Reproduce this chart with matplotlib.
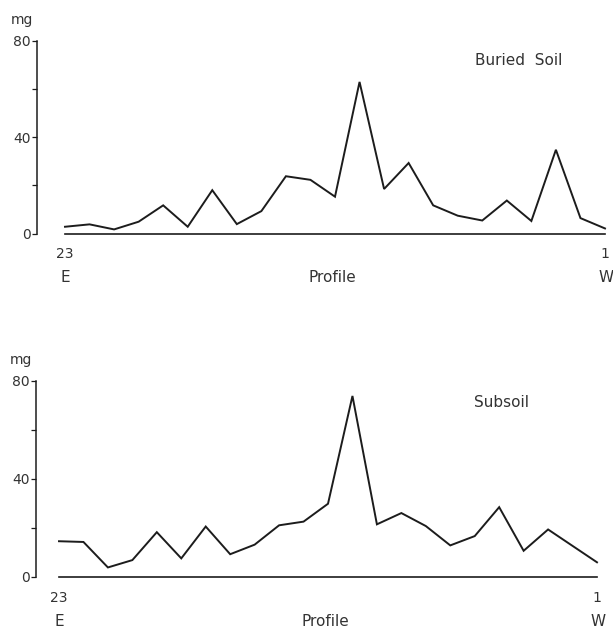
import matplotlib.pyplot as plt
from matplotlib.ticker import MultipleLocator

# profile positions, east (23) to west (1)
profile = [23, 22, 21, 20, 19, 18, 17, 16, 15, 14, 13, 12,
           11, 10, 9, 8, 7, 6, 5, 4, 3, 2, 1]

buried_soil = [2.8, 3.8, 1.7, 4.9, 11.7, 2.8, 18.0, 3.9, 9.3, 23.8, 22.3, 15.3,
               63.0, 18.5, 29.3, 11.7, 7.4, 5.4, 13.7, 5.2, 34.8, 6.4, 2.1]

subsoil = [14.6, 14.3, 3.9, 6.9, 18.3, 7.6, 20.6, 9.3, 13.2, 21.1, 22.6, 29.9,
           73.9, 21.5, 26.1, 20.8, 12.9, 16.7, 28.5, 10.7, 19.4, 12.7, 6.0]

W, H = 613, 628
ink = '#1c1c1c'
plt.rcParams['font.family'] = 'DejaVu Sans'
plt.rcParams['font.size'] = 10

fig = plt.figure(figsize=(W / 100, H / 100), dpi=100)


def panel(spine_x, first_x, last_x, y0, y80, values, label, label_xy):
    # place axes by pixel positions of the spine, first/last point and 0/80 lines
    n = len(values) - 1
    step = (last_x - first_x) / n
    ax = fig.add_axes([spine_x / W, 1 - y0 / H, (last_x - spine_x) / W, (y0 - y80) / H])
    ax.set_xlim(-(first_x - spine_x) / step, n)
    ax.set_ylim(0, 80)
    xs = range(len(values))
    ax.plot(xs, values, color=ink, lw=1.4, clip_on=False, solid_joinstyle='miter')
    ax.plot([0, n], [0, 0], color=ink, lw=1.2, clip_on=False)

    for s in ['top', 'right', 'bottom']:
        ax.spines[s].set_visible(False)
    ax.spines['left'].set_color(ink)
    ax.spines['left'].set_linewidth(1.1)
    ax.spines['left'].set_bounds(0, 80)
    ax.set_xticks([])
    ax.yaxis.set_major_locator(MultipleLocator(40))
    ax.yaxis.set_minor_locator(MultipleLocator(20))
    ax.tick_params(axis='y', which='both', direction='out', length=3.6, width=0.9,
                   color=ink, labelcolor='#333333', pad=1)
    ax.patch.set_visible(False)

    txt = dict(textcoords='offset pixels', ha='center', va='center',
               color='#333333', annotation_clip=False)
    ax.annotate('mg', xy=(0, 80), xycoords=('axes fraction', 'data'),
                xytext=(-15, 21), **txt)
    ax.annotate(str(profile[0]), xy=(0, 0), xytext=(0, -21), **txt)
    ax.annotate(str(profile[-1]), xy=(n, 0), xytext=(0, -21), **txt)
    ax.annotate('E', xy=(0, 0), xytext=(0, -44), fontsize=11, **txt)
    ax.annotate('W', xy=(n, 0), xytext=(1, -44), fontsize=11, **txt)
    ax.annotate('Profile', xy=(n / 2, 0), xytext=(-3, -44), fontsize=11, **txt)
    ax.text(label_xy[0], label_xy[1], label, ha='center', va='center',
            color='#333333', fontsize=11)
    return ax


panel(37, 65, 605, 233.5, 41, buried_soil, 'Buried  Soil', (18.5, 71.7))
panel(36, 59, 597, 577, 381, subsoil, 'Subsoil', (18.1, 71.4))

fig.savefig('out.png', dpi=100)
